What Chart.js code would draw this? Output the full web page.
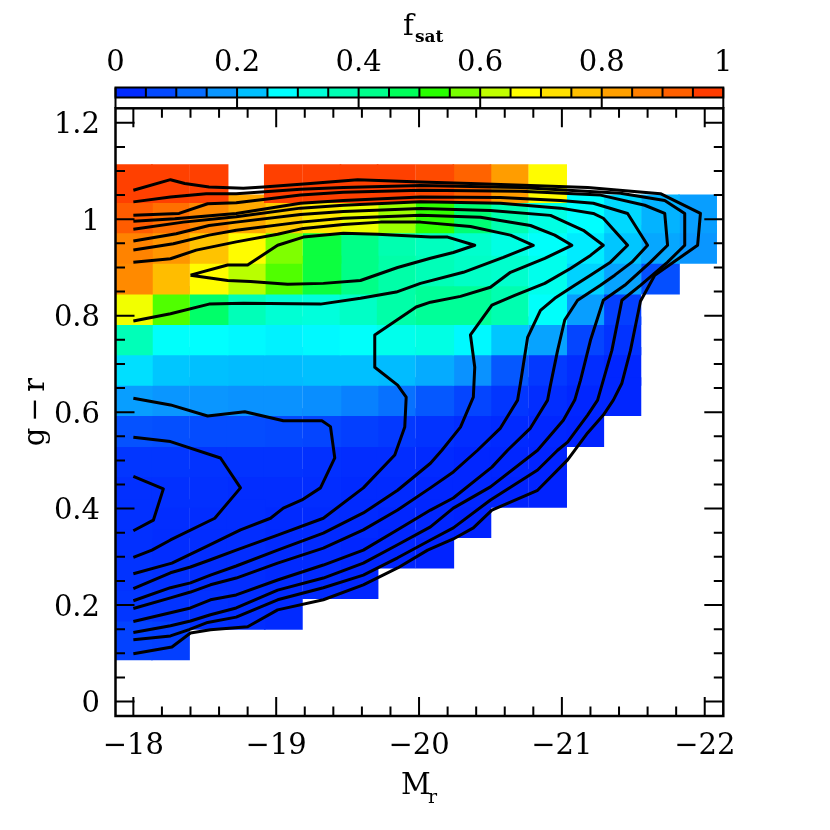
<!DOCTYPE html>
<html>
<head>
<meta charset="utf-8">
<script src="https://cdn.jsdelivr.net/npm/chart.js@4.4.1/dist/chart.umd.min.js"></script>
<style>
  html, body { margin: 0; padding: 0; background: #fff; }
</style>
</head>
<body>
<canvas id="chartFsat" width="830" height="830"></canvas>
<script>
// --- bins (cell centres) ---
const magCenters = [-18.00, -18.26, -18.53, -18.79, -19.05, -19.32, -19.58, -19.84,
                    -20.11, -20.37, -20.63, -20.90, -21.16, -21.42, -21.69, -21.95];
const colorCenters = [1.074, 1.011, 0.948, 0.884, 0.821, 0.758, 0.695, 0.632,
                      0.568, 0.505, 0.442, 0.379, 0.316, 0.253, 0.189, 0.126];
const magBinWidth = 0.263;

// --- f_sat per cell, one row per g-r bin (top row first), null = empty ---
const fsatRows = [
  [0.97, 0.97, 0.97, null, 0.97, 0.97, 0.97, 0.97, 0.955, 0.92, 0.83, 0.68, null, null, null, null],
  [0.93, 0.90, 0.86, 0.81, 0.76, 0.71, 0.66, 0.60, 0.53, 0.45, 0.38, 0.31, 0.275, 0.245, 0.21, 0.185],
  [0.87, 0.84, 0.77, 0.68, 0.58, 0.49, 0.43, 0.38, 0.36, 0.34, 0.31, 0.28, 0.26, 0.23, 0.195, 0.175],
  [0.86, 0.78, 0.68, 0.62, 0.55, 0.49, 0.43, 0.39, 0.37, 0.35, 0.34, 0.30, 0.24, 0.19, 0.085, null],
  [0.665, 0.55, 0.46, 0.37, 0.33, 0.32, 0.35, 0.39, 0.41, 0.41, 0.38, 0.28, 0.185, 0.06, null, null],
  [0.37, 0.28, 0.275, 0.27, 0.265, 0.27, 0.28, 0.30, 0.31, 0.27, 0.23, 0.19, 0.07, 0.04, null, null],
  [0.25, 0.23, 0.225, 0.22, 0.22, 0.225, 0.225, 0.22, 0.20, 0.17, 0.10, 0.05, 0.03, 0.02, null, null],
  [0.185, 0.175, 0.175, 0.17, 0.17, 0.165, 0.15, 0.13, 0.10, 0.07, 0.045, 0.03, 0.02, 0.02, null, null],
  [0.09, 0.085, 0.08, 0.08, 0.075, 0.07, 0.06, 0.05, 0.04, 0.03, 0.025, 0.02, 0.015, null, null, null],
  [0.045, 0.045, 0.04, 0.04, 0.04, 0.035, 0.03, 0.03, 0.025, 0.02, 0.02, 0.015, null, null, null, null],
  [0.035, 0.035, 0.035, 0.03, 0.03, 0.03, 0.025, 0.025, 0.02, 0.02, 0.015, 0.015, null, null, null, null],
  [0.035, 0.03, 0.03, 0.03, 0.025, 0.025, 0.025, 0.02, 0.02, 0.015, null, null, null, null, null, null],
  [0.035, 0.03, 0.03, 0.03, 0.025, 0.025, 0.02, 0.02, 0.015, null, null, null, null, null, null, null],
  [0.04, 0.035, 0.03, 0.03, 0.025, 0.025, 0.02, null, null, null, null, null, null, null, null, null],
  [0.045, 0.04, 0.035, 0.03, 0.025, null, null, null, null, null, null, null, null, null, null, null],
  [0.065, 0.06, null, null, null, null, null, null, null, null, null, null, null, null, null, null]
];

// --- density contours, [M_r, g-r] ---
const contourRedCore = [[-18.40,0.884],[-18.66,0.905],[-18.80,0.905],[-19.01,0.946],[-19.19,0.963],[-19.47,0.971],
  [-19.71,0.969],[-20.08,0.963],[-20.20,0.963],[-20.39,0.946],[-20.24,0.931],[-20.08,0.919],[-19.85,0.900],
  [-19.59,0.873],[-19.33,0.867],[-19.08,0.865],[-18.82,0.871],[-18.66,0.873],[-18.40,0.884]];
const contour2 = [[-18.00,0.911],[-18.26,0.918],[-18.44,0.936],[-18.72,0.953],[-19.01,0.969],[-19.19,0.981],
  [-19.47,0.989],[-19.73,0.994],[-20.01,0.994],[-20.36,0.985],[-20.64,0.967],[-20.80,0.946],[-20.59,0.921],
  [-20.31,0.890],[-20.01,0.867],[-19.84,0.849],[-19.59,0.836],[-19.31,0.824],[-18.77,0.826],[-18.53,0.824],
  [-18.26,0.804],[-18.00,0.789]];
const contour3 = [[-18.00,0.936],[-18.28,0.949],[-18.53,0.967],[-18.72,0.977],[-19.17,0.994],[-19.47,1.002],
  [-20.01,1.008],[-20.43,1.004],[-20.78,0.987],[-20.95,0.967],[-21.07,0.946],[-20.88,0.919],[-20.64,0.890],
  [-20.50,0.859],[-20.29,0.840],[-20.08,0.828],[-19.98,0.818],[-19.69,0.760],[-19.69,0.693],[-19.85,0.656],
  [-19.91,0.631],[-19.90,0.569],[-19.83,0.511],[-19.61,0.443],[-19.33,0.380],[-19.01,0.345],[-18.72,0.314],
  [-18.54,0.294],[-18.40,0.279],[-18.26,0.267],[-18.00,0.234]];
const contour4 = [[-18.00,0.955],[-18.30,0.970],[-18.53,0.987],[-18.72,0.994],[-19.17,1.010],[-19.47,1.016],
  [-20.01,1.022],[-20.50,1.018],[-20.92,1.008],[-21.15,0.977],[-21.29,0.946],[-21.20,0.925],[-21.06,0.898],
  [-20.88,0.867],[-20.67,0.842],[-20.51,0.822],[-20.36,0.760],[-20.39,0.693],[-20.38,0.631],[-20.29,0.569],
  [-20.16,0.521],[-20.08,0.494],[-19.85,0.438],[-19.61,0.391],[-19.33,0.349],[-19.01,0.314],[-18.72,0.281],
  [-18.54,0.262],[-18.40,0.246],[-18.26,0.236],[-18.00,0.209]];
const contour5 = [[-18.00,0.979],[-18.35,0.994],[-18.72,1.005],[-19.17,1.023],[-19.47,1.029],[-20.01,1.036],
  [-20.57,1.033],[-20.99,1.023],[-21.22,1.012],[-21.29,1.002],[-21.46,0.946],[-21.34,0.911],[-21.20,0.884],
  [-21.09,0.863],[-20.95,0.836],[-20.85,0.811],[-20.76,0.755],[-20.71,0.660],[-20.69,0.625],[-20.57,0.567],
  [-20.41,0.521],[-20.24,0.476],[-20.08,0.443],[-19.85,0.397],[-19.61,0.356],[-19.33,0.318],[-19.01,0.287],
  [-18.72,0.256],[-18.54,0.242],[-18.40,0.227],[-18.26,0.215],[-18.00,0.193]];
const contour6 = [[-18.00,0.996],[-18.29,1.001],[-18.72,1.012],[-19.17,1.033],[-19.47,1.039],[-20.01,1.046],
  [-20.57,1.045],[-20.99,1.039],[-21.22,1.033],[-21.46,1.012],[-21.60,0.946],[-21.49,0.911],[-21.37,0.884],
  [-21.27,0.863],[-21.11,0.832],[-21.02,0.791],[-20.97,0.728],[-20.92,0.656],[-20.90,0.625],[-20.78,0.567],
  [-20.62,0.521],[-20.51,0.486],[-20.24,0.422],[-20.08,0.397],[-19.85,0.356],[-19.61,0.314],[-19.33,0.283],
  [-19.01,0.252],[-18.72,0.221],[-18.54,0.211],[-18.40,0.194],[-18.26,0.184],[-18.00,0.166]];
const contour7 = [[-18.00,1.008],[-18.32,1.012],[-18.52,1.032],[-18.72,1.034],[-19.17,1.050],[-19.47,1.056],
  [-20.01,1.060],[-20.71,1.058],[-21.27,1.050],[-21.58,1.029],[-21.72,1.012],[-21.74,0.946],[-21.62,0.911],
  [-21.44,0.863],[-21.29,0.832],[-21.20,0.749],[-21.13,0.666],[-21.09,0.625],[-21.01,0.583],[-20.83,0.521],
  [-20.76,0.505],[-20.50,0.445],[-20.24,0.401],[-20.08,0.362],[-19.85,0.325],[-19.61,0.287],[-19.33,0.256],
  [-19.01,0.231],[-18.72,0.194],[-18.54,0.180],[-18.40,0.167],[-18.26,0.157],[-18.00,0.143]];
const contour8 = [[-18.00,1.036],[-18.26,1.046],[-18.51,1.053],[-18.72,1.053],[-19.17,1.062],[-19.47,1.066],
  [-20.01,1.070],[-20.71,1.066],[-21.41,1.054],[-21.72,1.039],[-21.86,1.012],[-21.86,0.946],[-21.74,0.911],
  [-21.55,0.863],[-21.42,0.832],[-21.35,0.728],[-21.28,0.656],[-21.25,0.625],[-21.18,0.594],[-21.04,0.538],
  [-20.97,0.521],[-20.83,0.480],[-20.50,0.418],[-20.24,0.360],[-20.08,0.335],[-19.85,0.298],[-19.61,0.262],
  [-19.33,0.236],[-19.01,0.211],[-18.72,0.175],[-18.52,0.164],[-18.39,0.149],[-18.26,0.136],[-18.00,0.128]];
const contour9 = [[-18.00,1.060],[-18.26,1.082],[-18.36,1.074],[-18.53,1.067],[-18.77,1.064],[-18.91,1.067],
  [-19.24,1.074],[-19.57,1.082],[-20.01,1.077],[-20.36,1.074],[-20.78,1.070],[-21.18,1.066],[-21.69,1.053],
  [-21.97,1.012],[-21.95,0.946],[-21.65,0.884],[-21.55,0.830],[-21.48,0.728],[-21.42,0.660],[-21.36,0.625],
  [-21.29,0.594],[-21.18,0.557],[-21.04,0.501],[-20.83,0.438],[-20.51,0.397],[-20.38,0.360],[-20.24,0.337],
  [-20.06,0.314],[-19.85,0.277],[-19.61,0.242],[-19.33,0.211],[-19.01,0.190],[-18.80,0.155],[-18.54,0.149],
  [-18.40,0.142],[-18.27,0.113],[-18.00,0.099]];
const contourBlue1 = [[-18.00,0.629],[-18.26,0.615],[-18.52,0.592],[-18.78,0.601],[-19.05,0.582],[-19.32,0.582],
  [-19.38,0.570],[-19.41,0.505],[-19.31,0.443],[-19.18,0.418],[-19.05,0.401],[-18.96,0.380],[-18.75,0.356],
  [-18.51,0.321],[-18.27,0.287],[-18.00,0.265]];
const contourBlue2 = [[-18.00,0.548],[-18.26,0.539],[-18.61,0.505],[-18.75,0.443],[-18.57,0.380],[-18.26,0.335],
  [-18.13,0.314],[-18.00,0.299]];
const contourBlue3 = [[-18.00,0.467],[-18.21,0.441],[-18.14,0.376],[-18.00,0.354]];

const contours = [contourRedCore, contour2, contour3, contour4, contour5, contour6, contour7, contour8,
                  contour9, contourBlue1, contourBlue2, contourBlue3];

// --- axes ---
const magTicks = [-18, -19, -20, -21, -22];
const magTickLabels = ['\u221218', '\u221219', '\u221220', '\u221221', '\u221222'];
const grTicks = [0, 0.2, 0.4, 0.6, 0.8, 1, 1.2];
const grTickLabels = ['0', '0.2', '0.4', '0.6', '0.8', '1', '1.2'];
const fsatTicks = [0, 0.2, 0.4, 0.6, 0.8, 1];
const fsatTickLabels = ['0', '0.2', '0.4', '0.6', '0.8', '1'];
const fsatSteps = 20;

// --- colour map (blue -> cyan -> green -> yellow -> red) ---
const cmapStops = [
  [0.000, [0, 26, 255]], [0.100, [5, 88, 255]], [0.175, [10, 150, 255]], [0.225, [0, 192, 255]],
  [0.275, [0, 255, 255]], [0.325, [0, 255, 216]], [0.375, [0, 255, 180]], [0.425, [0, 255, 140]],
  [0.475, [0, 255, 90]], [0.525, [40, 255, 0]], [0.575, [120, 255, 0]], [0.625, [192, 255, 0]],
  [0.675, [255, 255, 0]], [0.725, [255, 224, 0]], [0.775, [255, 192, 0]], [0.825, [255, 160, 0]],
  [0.875, [255, 128, 0]], [0.925, [255, 96, 0]], [0.975, [255, 60, 0]], [1.000, [255, 48, 0]]
];

function fsatColor(f) {
  if (f <= cmapStops[0][0]) return `rgb(${cmapStops[0][1].join(',')})`;
  for (let i = 1; i < cmapStops.length; i++) {
    const [f1, c1] = cmapStops[i];
    const [f0, c0] = cmapStops[i - 1];
    if (f <= f1) {
      const t = (f - f0) / (f1 - f0);
      const c = c0.map((v, k) => Math.round(v + (c1[k] - v) * t));
      return `rgb(${c.join(',')})`;
    }
  }
  return `rgb(${cmapStops[cmapStops.length - 1][1].join(',')})`;
}

// cells, drawn from low to high f_sat
const cells = [];
fsatRows.forEach((row, r) => {
  row.forEach((f, c) => {
    if (f !== null) cells.push({ x: magCenters[c], y: colorCenters[r], f });
  });
});
cells.sort((a, b) => a.f - b.f);

// --- frame, inward ticks, labels, colour bar ---
const FONT = '"DejaVu Serif", "Liberation Serif", serif';

const sciFrame = {
  id: 'sciFrame',
  afterDatasetsDraw(chart) {
    const { ctx, chartArea: a, scales } = chart;
    const xs = scales.x, ys = scales.y;
    ctx.save();
    ctx.strokeStyle = '#000';
    ctx.lineCap = 'butt';

    // ticks
    ctx.lineWidth = 2;
    const major = 19, minor = 9.5;
    const xTick = (v, len) => {
      const px = xs.getPixelForValue(v);
      ctx.beginPath();
      ctx.moveTo(px, a.bottom); ctx.lineTo(px, a.bottom - len);
      ctx.moveTo(px, a.top); ctx.lineTo(px, a.top + len);
      ctx.stroke();
    };
    const yTick = (v, len) => {
      const py = ys.getPixelForValue(v);
      ctx.beginPath();
      ctx.moveTo(a.left, py); ctx.lineTo(a.left + len, py);
      ctx.moveTo(a.right, py); ctx.lineTo(a.right - len, py);
      ctx.stroke();
    };
    for (let i = 0; i <= 20; i++) {
      const v = -18 - i * 0.2;
      xTick(v, i % 5 === 0 ? major : minor);
    }
    for (let i = 0; i <= 24; i++) {
      const v = i * 0.05;
      yTick(v, i % 4 === 0 ? major : minor);
    }

    // frame
    ctx.lineWidth = 2.5;
    ctx.strokeRect(a.left, a.top, a.right - a.left, a.bottom - a.top);

    // tick labels
    ctx.fillStyle = '#000';
    ctx.font = `29px ${FONT}`;
    ctx.textAlign = 'center';
    ctx.textBaseline = 'alphabetic';
    magTicks.forEach((v, i) => {
      ctx.fillText(magTickLabels[i], xs.getPixelForValue(v), 753.5);
    });
    ctx.textAlign = 'right';
    grTicks.forEach((v, i) => {
      ctx.fillText(grTickLabels[i], 100, ys.getPixelForValue(v) + 10.5);
    });

    // axis titles
    ctx.textAlign = 'left';
    ctx.font = `29px ${FONT}`;
    ctx.fillText('M', 401, 794);
    ctx.font = `19px ${FONT}`;
    ctx.fillText('r', 428, 803);

    ctx.save();
    ctx.translate(44, 412);
    ctx.rotate(-Math.PI / 2);
    ctx.textAlign = 'center';
    ctx.font = `29px ${FONT}`;
    ctx.fillText('g\u2009\u2212\u2009r', 0, 0);
    ctx.restore();
    ctx.restore();
  },
  afterDraw(chart) {
    const { ctx, chartArea: a, scales } = chart;
    const cb = scales.cb;
    const barTop = 87.5, barBottom = 97.5;
    ctx.save();
    // colour steps
    for (let i = 0; i < fsatSteps; i++) {
      const f0 = i / fsatSteps, f1 = (i + 1) / fsatSteps;
      const x0 = cb.getPixelForValue(f0), x1 = cb.getPixelForValue(f1);
      ctx.fillStyle = fsatColor((f0 + f1) / 2);
      ctx.fillRect(x0, barTop, x1 - x0, barBottom - barTop);
    }
    ctx.strokeStyle = '#000';
    ctx.lineWidth = 2;
    for (let i = 0; i <= fsatSteps; i++) {
      const x = cb.getPixelForValue(i / fsatSteps);
      ctx.beginPath(); ctx.moveTo(x, barTop); ctx.lineTo(x, barBottom); ctx.stroke();
    }
    ctx.strokeRect(a.left, barTop, a.right - a.left, barBottom - barTop);
    // white tick box under the bar
    ctx.beginPath();
    ctx.moveTo(a.left, barBottom); ctx.lineTo(a.left, a.top);
    ctx.moveTo(a.right, barBottom); ctx.lineTo(a.right, a.top);
    fsatTicks.forEach(v => {
      const x = cb.getPixelForValue(v);
      ctx.moveTo(x, barBottom); ctx.lineTo(x, a.top);
    });
    ctx.stroke();

    // labels
    ctx.fillStyle = '#000';
    ctx.font = `29px ${FONT}`;
    ctx.textAlign = 'center';
    ctx.textBaseline = 'alphabetic';
    fsatTicks.forEach((v, i) => {
      ctx.fillText(fsatTickLabels[i], cb.getPixelForValue(v), 71);
    });
    ctx.textAlign = 'left';
    ctx.font = `29px ${FONT}`;
    ctx.fillText('f', 403, 35);
    ctx.font = `bold 17px ${FONT}`;
    ctx.fillText('sat', 415, 42);
    ctx.restore();
  }
};

// square cell side in px, a hair wider than the bin so neighbours meet without seams
const cellSide = (chart) => {
  const xs = chart.scales.x;
  return Math.abs(xs.getPixelForValue(0) - xs.getPixelForValue(magBinWidth)) + 1.2;
};

const datasets = [{
  label: 'fsat',
  data: cells.map(c => ({ x: c.x, y: c.y })),
  pointStyle: 'rect',
  pointRadius: ctx => cellSide(ctx.chart) / Math.SQRT2,
  pointBackgroundColor: cells.map(c => fsatColor(c.f)),
  pointBorderWidth: 0,
  showLine: false,
  order: 10
}];
contours.forEach((pts, i) => {
  datasets.push({
    label: 'contour' + i,
    data: pts.map(p => ({ x: p[0], y: p[1] })),
    showLine: true,
    borderColor: '#000',
    borderWidth: 3,
    borderJoinStyle: 'round',
    pointRadius: 0,
    tension: 0,
    fill: false,
    order: 0
  });
});

new Chart(document.getElementById('chartFsat'), {
  type: 'scatter',
  data: { datasets },
  options: {
    responsive: false,
    animation: false,
    events: [],
    layout: { padding: { left: 115.5, top: 108.3, right: 106.7, bottom: 114 } },
    plugins: { legend: { display: false }, tooltip: { enabled: false } },
    scales: {
      x: { type: 'linear', reverse: true, min: -22.13, max: -17.875, display: false },
      y: { type: 'linear', min: -0.03, max: 1.23, display: false },
      cb: { type: 'linear', axis: 'x', position: 'top', min: 0, max: 1, display: false }
    }
  },
  plugins: [sciFrame]
});
</script>
</body>
</html>
